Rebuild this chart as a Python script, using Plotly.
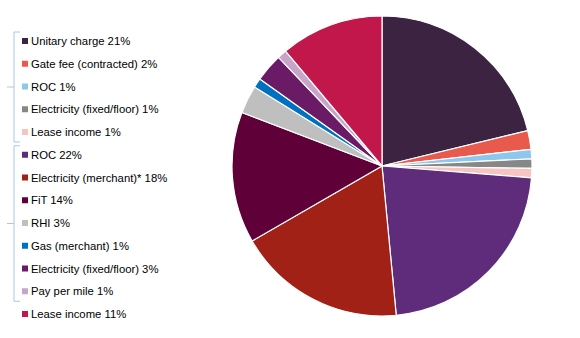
import plotly.graph_objects as go

# Revenue streams, in two groups, plus a stand-alone item
names = [
    "Unitary charge", "Gate fee (contracted)", "ROC", "Electricity (fixed/floor)", "Lease income",
    "ROC", "Electricity (merchant)*", "FiT", "RHI", "Gas (merchant)",
    "Electricity (fixed/floor)", "Pay per mile",
    "Lease income",
]
shares = [21, 2, 1, 1, 1, 22, 18, 14, 3, 1, 3, 1, 11]
colors = [
    "#3B2341", "#E85A4B", "#8DC8EC", "#878787", "#F6C4C2",
    "#5E2C7B", "#A12117", "#5F0039", "#BFBFBF", "#0070C0",
    "#6B1A66", "#C7A5C9",
    "#C1174A",
]
groups = [(0, 4), (5, 11)]  # index ranges bracketed in the key

labels = [f"{n} {v}%" for n, v in zip(names, shares)]

W, H = 580, 338


def px(x):
    return x / W


def py(y):
    return 1 - y / H


fig = go.Figure()
fig.add_trace(go.Pie(
    labels=labels,
    values=shares,
    sort=False,
    direction="clockwise",
    rotation=0,
    marker=dict(colors=colors, line=dict(color="white", width=1.2)),
    textinfo="none",
    showlegend=False,
    domain=dict(x=[px(232), px(532)], y=[py(316), py(16)]),
))

shapes = []
annotations = []
row0, step = 41, 22.75
for i, (lab, col) in enumerate(zip(labels, colors)):
    yc = row0 + step * i
    shapes.append(dict(type="rect", xref="paper", yref="paper",
                       x0=px(22), x1=px(28), y0=py(yc + 3), y1=py(yc - 3),
                       fillcolor=col, line=dict(width=0)))
    annotations.append(dict(x=px(28.5), y=py(yc), xref="paper", yref="paper",
                            text=lab, showarrow=False, xanchor="left", yanchor="middle",
                            font=dict(family="Liberation Sans, Arial", size=11.3, color="#000000")))

# brackets grouping the key entries
brace = "#A9C8E0"
for a, b in groups:
    top = row0 + step * a - 9
    bot = row0 + step * b + 10
    mid = (top + bot) / 2
    path = (f"M {px(20)},{py(top)} L {px(14)},{py(top)} L {px(14)},{py(bot)} L {px(20)},{py(bot)} "
            f"M {px(14)},{py(mid)} L {px(7)},{py(mid)}")
    shapes.append(dict(type="path", xref="paper", yref="paper", path=path,
                       line=dict(color=brace, width=1)))

fig.update_layout(
    width=W, height=H,
    margin=dict(l=0, r=0, t=0, b=0),
    paper_bgcolor="white",
    plot_bgcolor="white",
    shapes=shapes,
    annotations=annotations,
)

fig.write_html("out.html")
